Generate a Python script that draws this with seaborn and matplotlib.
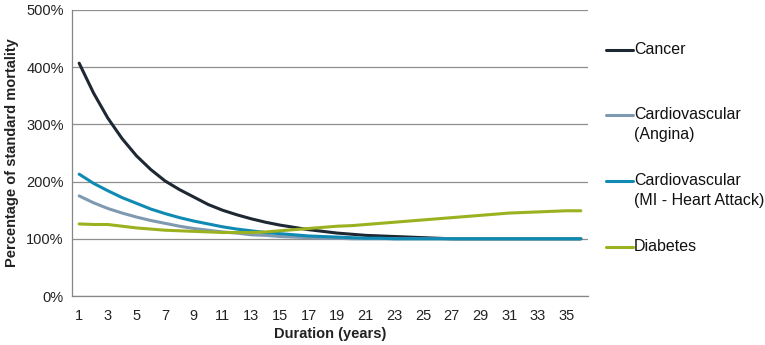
import numpy as np
import pandas as pd
import matplotlib
matplotlib.use("Agg")
import matplotlib.pyplot as plt
import seaborn as sns
from matplotlib.ticker import FixedLocator, FuncFormatter
from matplotlib.lines import Line2D

# values (percent of standard mortality)
years = list(range(1, 37))
cancer = [407, 355, 311, 275, 245, 221, 201, 186, 173, 160, 150, 142, 135, 129, 124, 120,
          116, 113, 110, 108, 106, 105, 104, 103, 102, 101, 100, 100, 100, 100, 100, 100,
          100, 100, 100, 100]
angina = [175, 163, 153, 145, 138, 132, 127, 122, 118, 115, 112, 110, 107, 106, 104, 103,
          102, 101, 101, 100, 100, 100, 100, 100, 100, 100, 100, 100, 100, 100, 100, 100,
          100, 100, 100, 100]
mi = [213, 197, 184, 172, 162, 152, 144, 137, 131, 126, 121, 117, 114, 111, 109, 107,
      105, 104, 103, 102, 101, 101, 100, 100, 100, 100, 100, 100, 100, 100, 100, 100,
      100, 100, 100, 100]
diabetes = [126, 125, 125, 122, 119, 117, 115, 114, 113, 112, 111, 111, 111, 112, 114, 116,
            118, 120, 122, 123, 125, 127, 129, 131, 133, 135, 137, 139, 141, 143, 145, 146,
            147, 148, 149, 149]

series_names = ["Cancer", "Cardiovascular\n(Angina)", "Cardiovascular\n(MI - Heart Attack)", "Diabetes"]
colors = ["#1d2833", "#7f9ab0", "#0f8ab3", "#9cb11f"]

df = pd.DataFrame({
    "year": years * 4,
    "value": cancer + angina + mi + diabetes,
    "series": sum([[n] * len(years) for n in series_names], []),
})

sns.set_style("white")
plt.rcParams["font.family"] = ["Liberation Sans", "DejaVu Sans"]

fig = plt.figure(figsize=(7.65, 3.45), dpi=100)
ax = fig.add_axes([72 / 765, 1 - 296 / 345, (588 - 72) / 765, (296 - 10) / 345])

sns.lineplot(data=df, x="year", y="value", hue="series", hue_order=series_names,
             palette=colors, linewidth=2.2, legend=False, ax=ax)

ax.set_xlim(0.5, 36.5)
ax.set_ylim(0, 500)
ax.set_yticks(range(0, 501, 100))
ax.yaxis.set_major_formatter(FuncFormatter(lambda v, p: f"{int(v)}%"))
ax.xaxis.set_major_locator(FixedLocator(list(range(1, 37, 2))))
ax.xaxis.set_minor_locator(FixedLocator([i + 0.5 for i in range(0, 37)]))
ax.tick_params(axis="x", which="major", length=0, pad=9, labelsize=10.5, colors="#222222")
ax.tick_params(axis="x", which="minor", length=3, width=0.8, color="#868686", direction="out")
ax.tick_params(axis="y", which="major", length=4, width=0.8, color="#868686", pad=2,
               labelsize=10.5, labelcolor="#222222", direction="out")

ax.grid(axis="y", color="#8f8f8f", linewidth=0.9)
ax.set_axisbelow(True)
for s in ["top", "right"]:
    ax.spines[s].set_visible(False)
for s in ["left", "bottom"]:
    ax.spines[s].set_color("#868686")
    ax.spines[s].set_linewidth(0.9)

ax.set_xlabel("Duration (years)", fontsize=10.5, fontweight="bold", color="#222222", labelpad=3)
ax.set_ylabel("Percentage of standard mortality", fontsize=10.5, fontweight="bold",
              color="#222222", labelpad=5)

# legend: key aligned with first text line
legend_y = [50, 115, 181, 247]
for name, col, yy in zip(series_names, colors, legend_y):
    yf = 1 - yy / 345
    fig.add_artist(Line2D([606 / 765, 633 / 765], [yf, yf], color=col, linewidth=2.2,
                          transform=fig.transFigure))
    fig.text(634 / 765, yf + 8 / 345, name, fontsize=11.5, color="#111111",
             va="top", ha="left", linespacing=1.45)

fig.savefig("out.png", dpi=100)
